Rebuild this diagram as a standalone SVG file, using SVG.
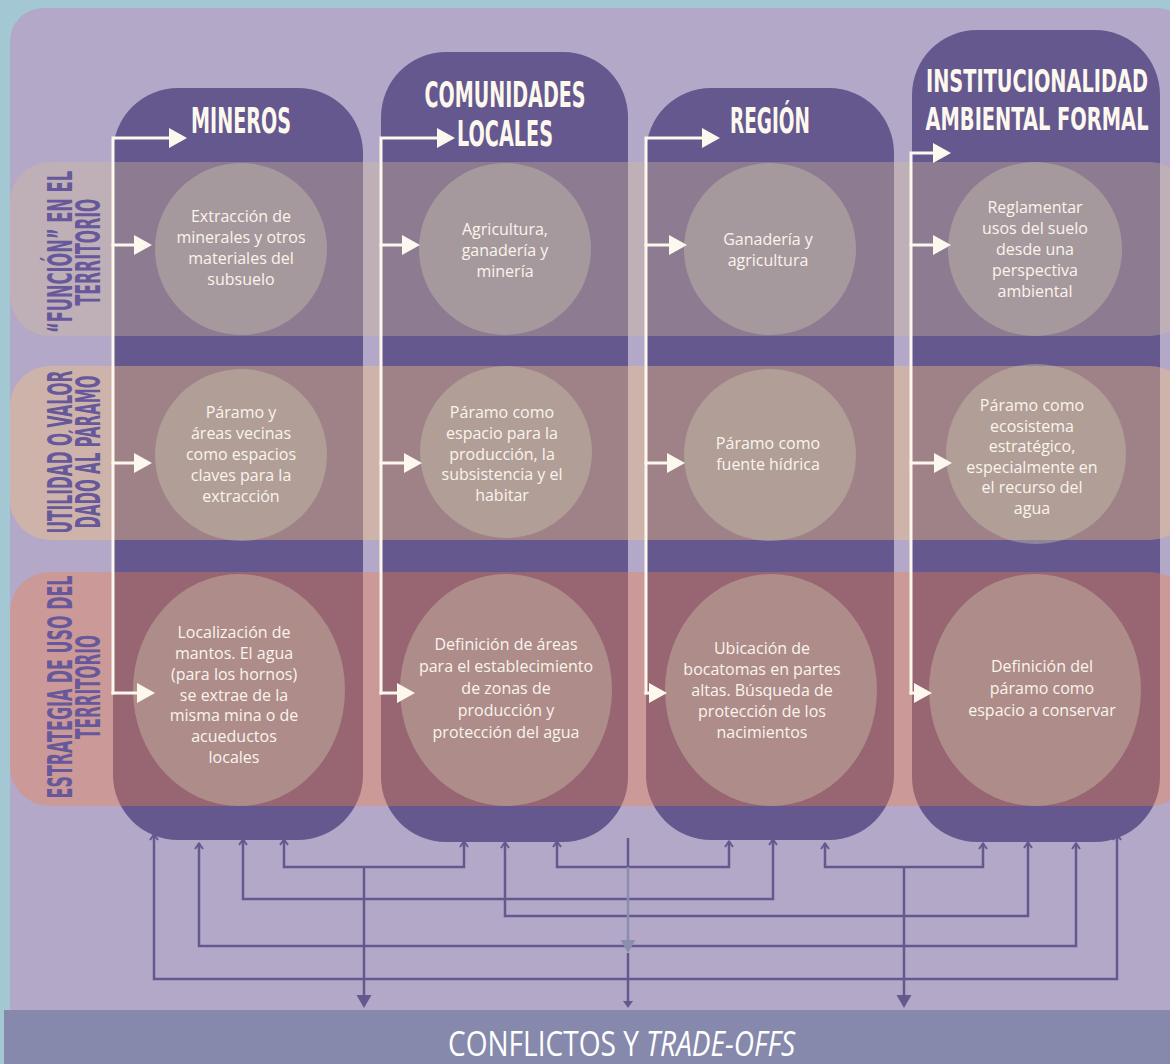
<svg xmlns="http://www.w3.org/2000/svg" width="1170" height="1064" viewBox="0 0 1170 1064">
<style>
.col{fill:#65588f}
.hd{font-family:'Liberation Sans Narrow','DejaVu Sans Condensed','Liberation Sans',sans-serif;font-weight:bold;font-size:36px;fill:#fdf8ee;text-anchor:middle}
.hs{font-size:32px}
.lb{font-family:'Liberation Sans Narrow','DejaVu Sans Condensed','Liberation Sans',sans-serif;font-weight:bold;font-size:33px;fill:#66589a;text-anchor:middle}
.b1{fill:#d7be96;opacity:.35}
.b2{fill:#f5c37d;opacity:.4}
.b3{fill:#fa7d3c;opacity:.35}
.cir{fill:#cdc8af;opacity:.4}
.t{font-family:'Open Sans','Noto Sans',sans-serif;font-size:16px;fill:#fbf4ec;text-anchor:middle}
.wa{stroke:#fdf8ee;stroke-width:3;fill:none;stroke-linecap:square}
.cn{stroke:#65588f;stroke-width:2.5;fill:none}
.ft{font-family:'Open Sans','DejaVu Sans Condensed',sans-serif;font-size:35px;fill:#ffffff}
</style>
<defs>
<marker id="wh" markerUnits="userSpaceOnUse" orient="auto" refX="0" refY="0" overflow="visible" markerWidth="20" markerHeight="20">
<path d="M0,-10 L18,0 L0,10 z" fill="#fdf8ee"/>
</marker>
<marker id="up" markerUnits="userSpaceOnUse" orient="0" refX="0" refY="0" overflow="visible" markerWidth="10" markerHeight="10">
<path d="M-4,6 L0,0.5 L4,6" fill="none" stroke="#65588f" stroke-width="2"/>
</marker>
<marker id="dn" markerUnits="userSpaceOnUse" orient="0" refX="0" refY="0" overflow="visible" markerWidth="20" markerHeight="20">
<path d="M-7.5,-5 L7.5,-5 L0,8 z" fill="#65588f"/>
</marker>
</defs>

<g id="background">
<rect x="0" y="0" width="1170" height="1064" fill="#a3c8d4"/>
<rect x="10" y="8" width="1180" height="1040" rx="33" fill="#b3a8c8"/>
</g>

<g id="col-mineros">
<rect class="col" x="113" y="88" width="250" height="752" rx="65"/>
<text class="hd" transform="translate(241,133) scale(0.6,1)" x="0" y="0" textLength="166.7" lengthAdjust="spacingAndGlyphs">MINEROS</text>
</g>
<g id="col-comunidades">
<rect class="col" x="381" y="52" width="247" height="790" rx="65"/>
<text class="hd" transform="translate(505,107) scale(0.6,1)" x="0" y="0" textLength="268.3" lengthAdjust="spacingAndGlyphs">COMUNIDADES</text>
<text class="hd" transform="translate(505,146) scale(0.6,1)" x="0" y="0" textLength="160" lengthAdjust="spacingAndGlyphs">LOCALES</text>
</g>
<g id="col-region">
<rect class="col" x="646" y="88" width="248" height="752" rx="65"/>
<text class="hd" transform="translate(770,133) scale(0.6,1)" x="0" y="0" textLength="133.3" lengthAdjust="spacingAndGlyphs">REGIÓN</text>
</g>
<g id="col-institucionalidad">
<rect class="col" x="912" y="30" width="248" height="812" rx="65"/>
<text class="hd hs" transform="translate(1037,92) scale(0.6,1)" x="0" y="0" textLength="370" lengthAdjust="spacingAndGlyphs">INSTITUCIONALIDAD</text>
<text class="hd hs" transform="translate(1037,130) scale(0.6,1)" x="0" y="0" textLength="371.7" lengthAdjust="spacingAndGlyphs">AMBIENTAL FORMAL</text>
</g>

<g id="row-funcion">
<rect class="b1" x="10" y="162" width="1180" height="174" rx="40"/>
<text class="lb" transform="translate(72,252) rotate(-90) scale(0.55,1)"><tspan x="0" y="0" textLength="294.5" lengthAdjust="spacingAndGlyphs">“FUNCIÓN” EN EL</tspan><tspan x="0" y="28" textLength="194.5" lengthAdjust="spacingAndGlyphs">TERRITORIO</tspan></text>
</g>
<g id="row-utilidad">
<rect class="b2" x="10" y="366" width="1180" height="174" rx="40"/>
<text class="lb" transform="translate(72,452) rotate(-90) scale(0.55,1)"><tspan x="0" y="0" textLength="296.4" lengthAdjust="spacingAndGlyphs">UTILIDAD O VALOR</tspan><tspan x="0" y="28" textLength="278.2" lengthAdjust="spacingAndGlyphs">DADO AL PÁRAMO</tspan></text>
</g>
<g id="row-estrategia">
<rect class="b3" x="10" y="572" width="1180" height="234" rx="40"/>
<text class="lb" transform="translate(72,687) rotate(-90) scale(0.55,1)"><tspan x="0" y="0" textLength="405.5" lengthAdjust="spacingAndGlyphs">ESTRATEGIA DE USO DEL</tspan><tspan x="0" y="28" textLength="189" lengthAdjust="spacingAndGlyphs">TERRITORIO</tspan></text>
</g>

<g id="m1"><circle class="cir" cx="241" cy="249" r="86"/>
<text class="t"><tspan x="241" y="222">Extracción de</tspan><tspan x="241" y="243">minerales y otros</tspan><tspan x="241" y="264">materiales del</tspan><tspan x="241" y="285">subsuelo</tspan></text></g>
<g id="c1"><circle class="cir" cx="505" cy="249" r="86"/>
<text class="t"><tspan x="505" y="235">Agricultura,</tspan><tspan x="505" y="256">ganadería y</tspan><tspan x="505" y="277">minería</tspan></text></g>
<g id="r1"><circle class="cir" cx="770" cy="249" r="86"/>
<text class="t"><tspan x="768" y="245">Ganadería y</tspan><tspan x="768" y="266">agricultura</tspan></text></g>
<g id="i1"><circle class="cir" cx="1035" cy="249" r="87"/>
<text class="t"><tspan x="1035" y="213">Reglamentar</tspan><tspan x="1035" y="234">usos del suelo</tspan><tspan x="1035" y="255">desde una</tspan><tspan x="1035" y="276">perspectiva</tspan><tspan x="1035" y="297">ambiental</tspan></text></g>

<g id="m2"><circle class="cir" cx="241" cy="455" r="86"/>
<text class="t"><tspan x="241" y="418">Páramo y</tspan><tspan x="241" y="439">áreas vecinas</tspan><tspan x="241" y="460">como espacios</tspan><tspan x="241" y="481">claves para la</tspan><tspan x="241" y="502">extracción</tspan></text></g>
<g id="c2"><circle class="cir" cx="506" cy="452" r="86"/>
<text class="t"><tspan x="502" y="418">Páramo como</tspan><tspan x="502" y="439">espacio para la</tspan><tspan x="502" y="460">producción, la</tspan><tspan x="502" y="480">subsistencia y el</tspan><tspan x="502" y="501">habitar</tspan></text></g>
<g id="r2"><circle class="cir" cx="770" cy="455" r="86"/>
<text class="t"><tspan x="768" y="449">Páramo como</tspan><tspan x="768" y="470">fuente hídrica</tspan></text></g>
<g id="i2"><circle class="cir" cx="1036" cy="454" r="90"/>
<text class="t"><tspan x="1032" y="411">Páramo como</tspan><tspan x="1032" y="432">ecosistema</tspan><tspan x="1032" y="452">estratégico,</tspan><tspan x="1032" y="473">especialmente en</tspan><tspan x="1032" y="493">el recurso del</tspan><tspan x="1032" y="514">agua</tspan></text></g>

<g id="m3"><ellipse class="cir" cx="239" cy="690" rx="106" ry="116"/>
<text class="t"><tspan x="234" y="638">Localización de</tspan><tspan x="234" y="659">mantos. El agua</tspan><tspan x="234" y="680">(para los hornos)</tspan><tspan x="234" y="701">se extrae de la</tspan><tspan x="234" y="721">misma mina o de</tspan><tspan x="234" y="742">acueductos</tspan><tspan x="234" y="763">locales</tspan></text></g>
<g id="c3"><ellipse class="cir" cx="506" cy="690" rx="106" ry="116"/>
<text class="t"><tspan x="506" y="650">Definición de áreas</tspan><tspan x="506" y="672">para el establecimiento</tspan><tspan x="506" y="694">de zonas de</tspan><tspan x="506" y="716">producción y</tspan><tspan x="506" y="738">protección del agua</tspan></text></g>
<g id="r3"><ellipse class="cir" cx="771" cy="690" rx="106" ry="116"/>
<text class="t"><tspan x="762" y="654">Ubicación de</tspan><tspan x="762" y="675">bocatomas en partes</tspan><tspan x="762" y="696">altas. Búsqueda de</tspan><tspan x="762" y="717">protección de los</tspan><tspan x="762" y="738">nacimientos</tspan></text></g>
<g id="i3"><ellipse class="cir" cx="1035" cy="690" rx="106" ry="116"/>
<text class="t"><tspan x="1042" y="672">Definición del</tspan><tspan x="1042" y="694">páramo como</tspan><tspan x="1042" y="716">espacio a conservar</tspan></text></g>

<g id="flow-arrows">
<path class="wa" d="M113,693 V138 H169" marker-end="url(#wh)"/>
<path class="wa" d="M113,245 H134" marker-end="url(#wh)"/>
<path class="wa" d="M113,463 H134" marker-end="url(#wh)"/>
<path class="wa" d="M113,693 H137" marker-end="url(#wh)"/>
<path class="wa" d="M381,693 V138 H437" marker-end="url(#wh)"/>
<path class="wa" d="M381,245 H402" marker-end="url(#wh)"/>
<path class="wa" d="M381,463 H404" marker-end="url(#wh)"/>
<path class="wa" d="M381,693 H397" marker-end="url(#wh)"/>
<path class="wa" d="M646,693 V138 H702" marker-end="url(#wh)"/>
<path class="wa" d="M646,245 H669" marker-end="url(#wh)"/>
<path class="wa" d="M646,463 H667" marker-end="url(#wh)"/>
<path class="wa" d="M646,693 H649" marker-end="url(#wh)"/>
<path class="wa" d="M911,693 V153 H933" marker-end="url(#wh)"/>
<path class="wa" d="M911,245 H933" marker-end="url(#wh)"/>
<path class="wa" d="M911,463 H934" marker-end="url(#wh)"/>
<path class="wa" d="M911,693 H914" marker-end="url(#wh)"/>
</g>

<g id="connectors">
<path class="cn" d="M284,839 V867 H464 V841" marker-start="url(#up)" marker-end="url(#up)"/>
<path class="cn" d="M557,841 V867 H729 V841" marker-start="url(#up)" marker-end="url(#up)"/>
<path class="cn" d="M825,843 V867 H983 V843" marker-start="url(#up)" marker-end="url(#up)"/>
<path class="cn" d="M243,839 V899 H773 V839" marker-start="url(#up)" marker-end="url(#up)"/>
<path class="cn" d="M505,842 V916 H1028 V842" marker-start="url(#up)" marker-end="url(#up)"/>
<path class="cn" d="M199,843 V946 H1076 V843" marker-start="url(#up)" marker-end="url(#up)"/>
<path class="cn" d="M154,834 V979 H1117 V834" marker-start="url(#up)" marker-end="url(#up)"/>
<path class="cn" d="M364,867 V1000" marker-end="url(#dn)"/>
<path class="cn" d="M904,867 V1000" marker-end="url(#dn)"/>
<path class="cn" d="M628,838 V867"/>
<path d="M628,867 V942" stroke="#8a8fb0" stroke-width="2.5"/>
<polygon points="620.5,940 635.5,940 628,953" fill="#8a8fb0"/>
<path class="cn" d="M628,953 V1002"/>
<polygon points="623,1001 633,1001 628,1008" fill="#65588f"/>
</g>

<g id="conflictos">
<rect x="4" y="1010" width="1166" height="54" fill="#8689ab"/>
<text class="ft" transform="translate(448,1056) scale(0.72,1)" x="0" y="0" textLength="482" lengthAdjust="spacingAndGlyphs">CONFLICTOS Y <tspan font-style="italic">TRADE-OFFS</tspan></text>
</g>
</svg>
